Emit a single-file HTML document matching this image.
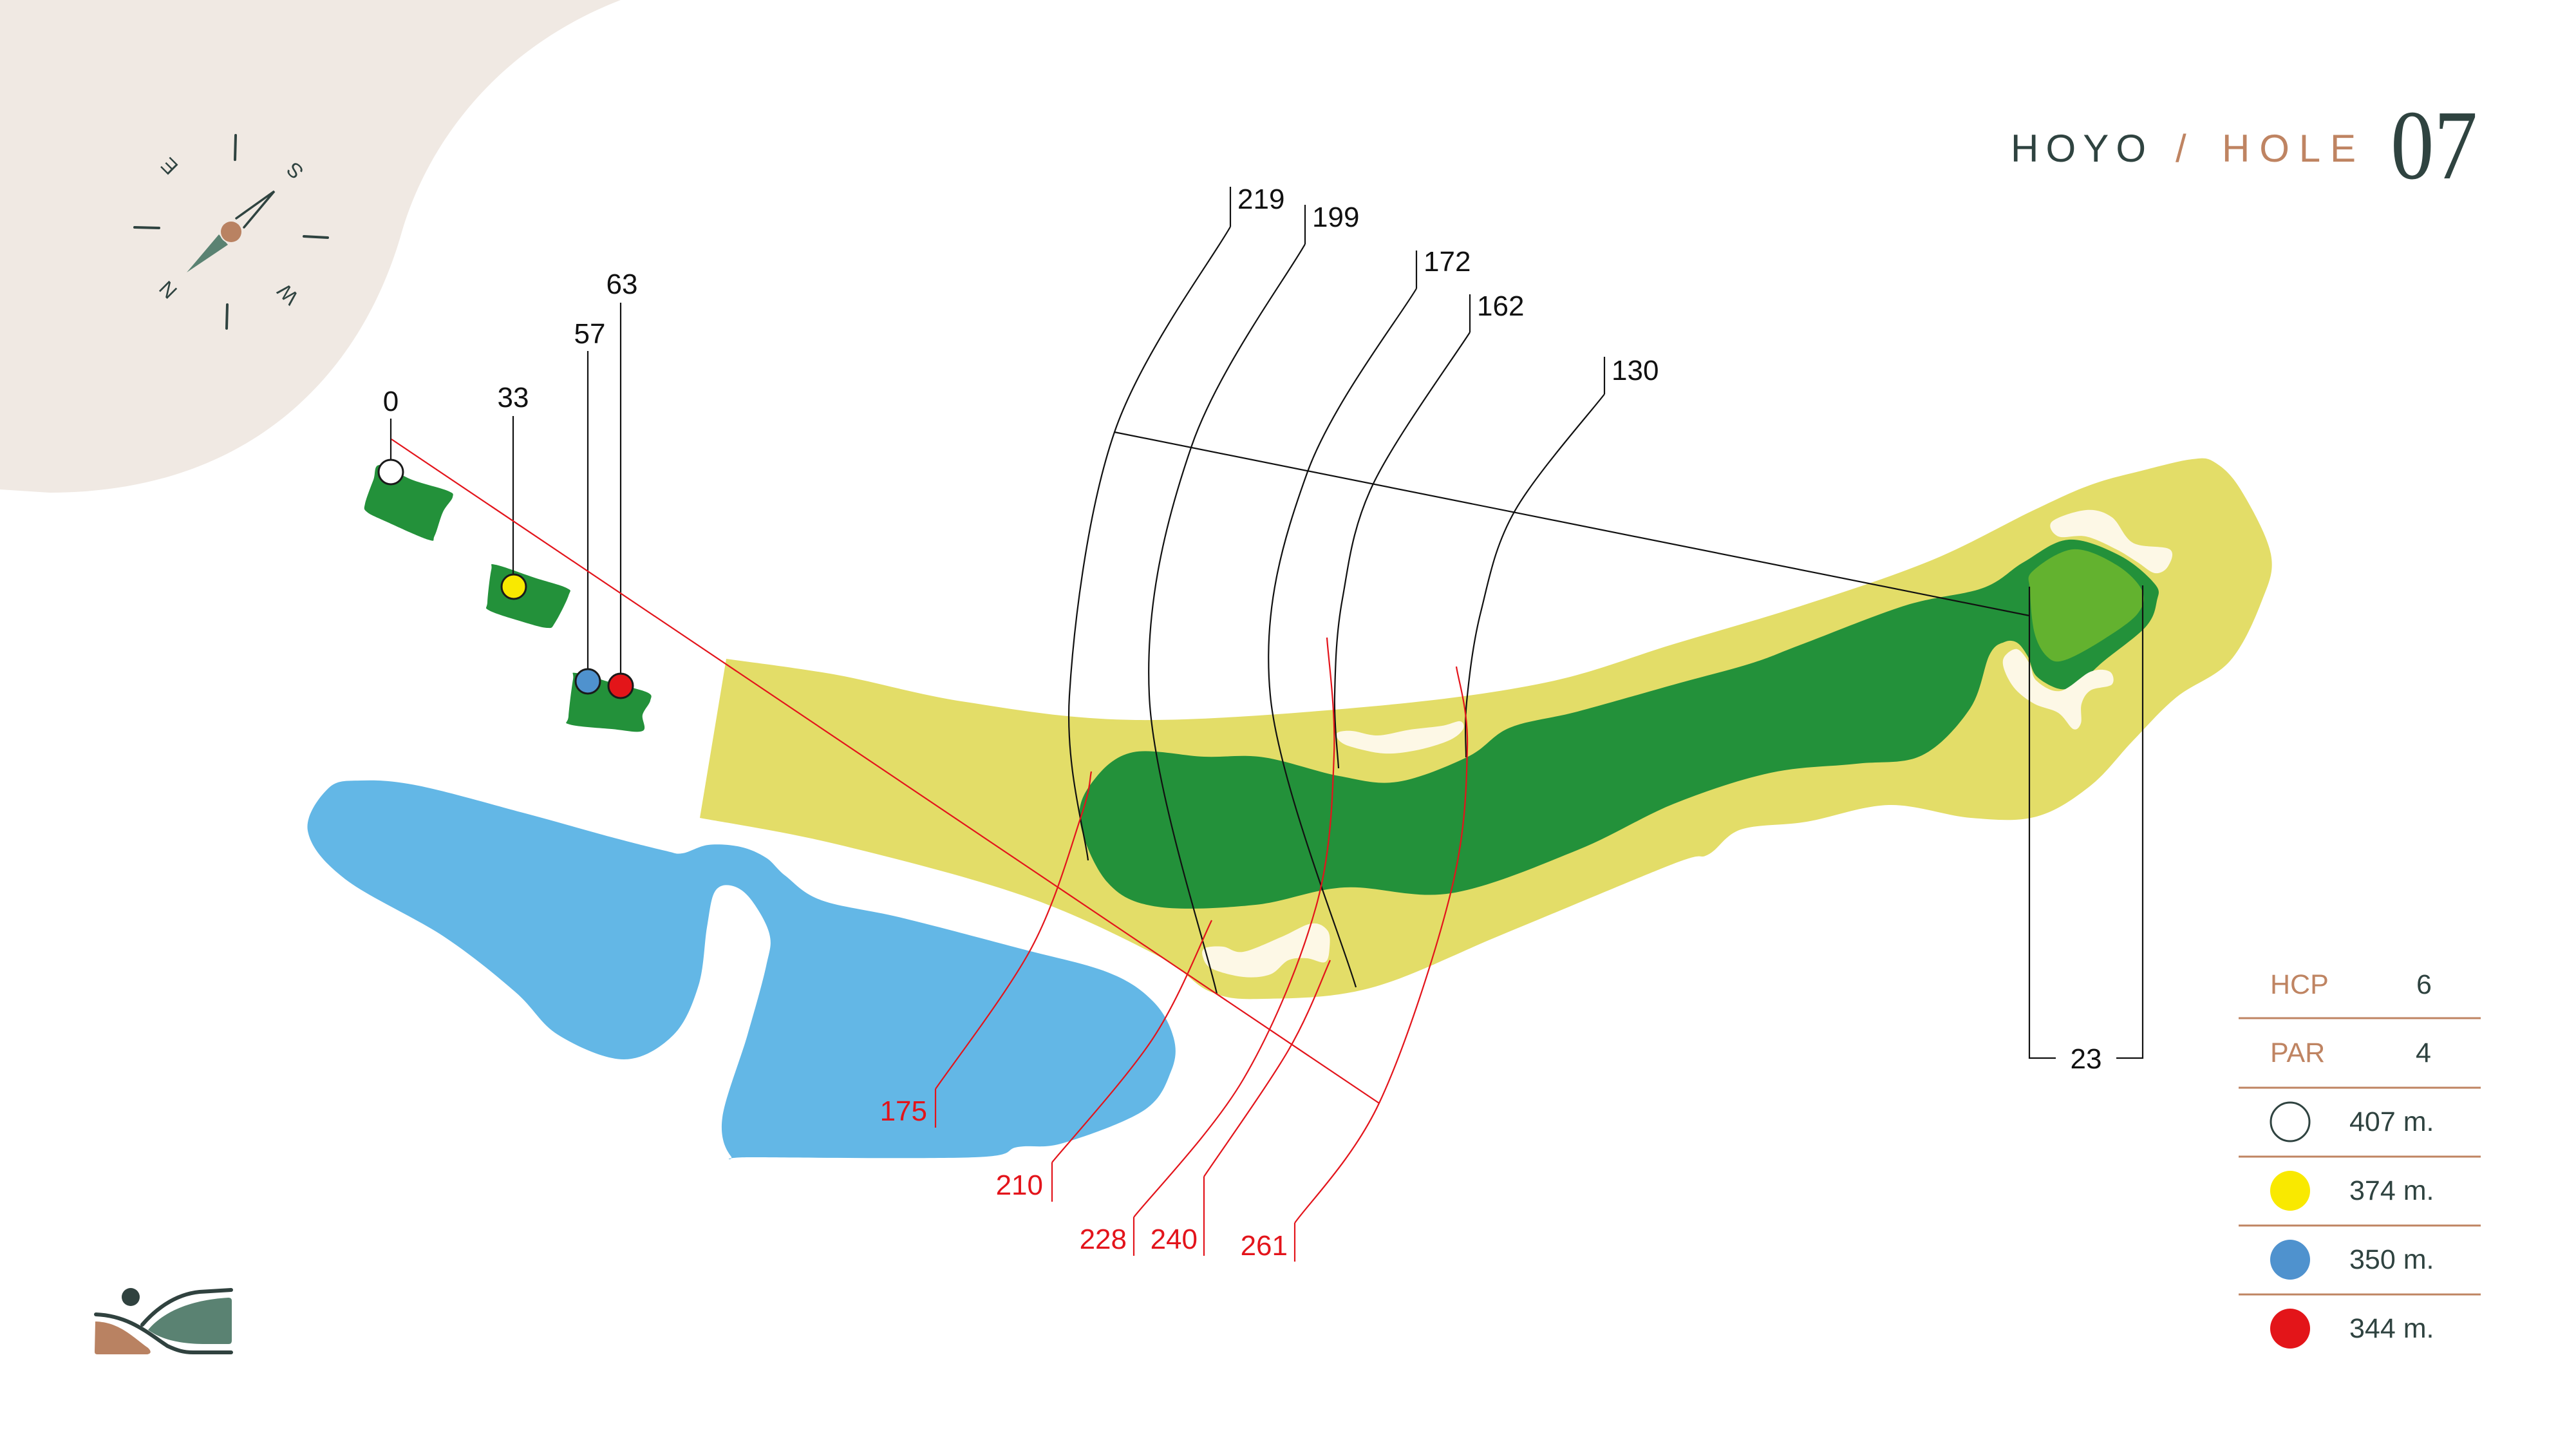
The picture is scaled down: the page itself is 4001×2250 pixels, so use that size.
<!DOCTYPE html>
<html><head><meta charset="utf-8"><style>
html,body{margin:0;padding:0;background:#fff;}
svg{display:block;}
text{font-family:"Liberation Sans",sans-serif;}
</style></head><body>
<svg id="s" width="4001" height="2250" viewBox="0 0 4001 2250" xmlns="http://www.w3.org/2000/svg">
<rect width="4001" height="2250" fill="#fff"/>
<path d="M0,0 L964,0 C765,77 663,230 625,357 C561,587 383,765 77,765 L0,760 Z" fill="#f0e9e3"/>

<g stroke="#2f4340" stroke-width="4" stroke-linecap="round" fill="none">
<line x1="366" y1="210" x2="365" y2="248"/>
<line x1="209" y1="353" x2="247" y2="354"/>
<line x1="472" y1="367" x2="509" y2="369"/>
<line x1="353" y1="473" x2="352" y2="510"/>
<polyline points="367,339 426,297 379,353" stroke-width="3.5"/>
</g>
<polygon points="290,423 340,364 354,380" fill="#5a8272"/>
<circle cx="359" cy="360" r="18" fill="#f0e9e3"/>
<circle cx="359" cy="360" r="16" fill="#b98262"/>
<g fill="#2f4340" font-size="32" text-anchor="middle">
<text transform="translate(263,258) rotate(-135)" y="11">E</text>
<text transform="translate(458,265) rotate(-135)" y="11">S</text>
<text transform="translate(261,450) rotate(-135)" y="11">N</text>
<text transform="translate(447,457) rotate(-135)" y="11">W</text>
</g>

<path id="water" fill="#63b7e6"/>
<path id="fair" fill="#e3dd68"/>
<path id="dark" fill="#23913a"/>
<path id="putt" fill="#63b22f"/>
<path id="s1" fill="#fdf8e6"/>
<path id="s2" fill="#fdf8e6"/>
<path id="s3" fill="#fdf8e6"/>
<path id="s4" fill="#fdf8e6"/>
<path id="t1" fill="#23913a"/>
<path id="t2" fill="#23913a"/>
<path id="t3" fill="#23913a"/>

<g stroke="#111" stroke-width="2.2" fill="none">
<line x1="1731" y1="671" x2="3152" y2="956"/>
<polyline points="3152,911 3152,1643 3193,1643"/>
<polyline points="3328,909 3328,1643 3287,1643"/>
<line x1="1911" y1="290" x2="1911" y2="352"/>
<line x1="2027" y1="318" x2="2027" y2="379"/>
<line x1="2200" y1="389" x2="2200" y2="448"/>
<line x1="2283" y1="457" x2="2283" y2="516"/>
<line x1="2492" y1="554" x2="2492" y2="612"/>
<path id="a219"/><path id="a199"/><path id="a172"/><path id="a162"/><path id="a130"/>
<line x1="607" y1="650" x2="607" y2="714"/>
<line x1="797" y1="646" x2="797" y2="892"/>
<line x1="913" y1="545" x2="913" y2="1040"/>
<line x1="964" y1="470" x2="964" y2="1046"/>
</g>
<g stroke="#e3141b" stroke-width="2.2" fill="none">
<line x1="608" y1="682" x2="2142" y2="1713"/>
<line x1="1453" y1="1691" x2="1453" y2="1751"/>
<line x1="1634" y1="1805" x2="1634" y2="1866"/>
<line x1="1761" y1="1890" x2="1761" y2="1950"/>
<line x1="1870" y1="1827" x2="1870" y2="1950"/>
<line x1="2011" y1="1899" x2="2011" y2="1959"/>
<path id="r175"/><path id="r210"/><path id="r228"/><path id="r240"/><path id="r261"/>
</g>

<g stroke="#1a1a1a" stroke-width="3">
<circle cx="607" cy="733" r="19" fill="#fff"/>
<circle cx="798" cy="911" r="19" fill="#f9e900"/>
<circle cx="913" cy="1058" r="19" fill="#4f92ce"/>
<circle cx="964" cy="1065" r="19" fill="#e31519"/>
</g>

<g fill="#111" font-size="44">
<text x="607" y="638" text-anchor="middle">0</text>
<text x="797" y="632" text-anchor="middle">33</text>
<text x="916" y="533" text-anchor="middle">57</text>
<text x="966" y="456" text-anchor="middle">63</text>
<text x="1922" y="324">219</text>
<text x="2038" y="352">199</text>
<text x="2211" y="421">172</text>
<text x="2294" y="490">162</text>
<text x="2503" y="590">130</text>
<text x="3240" y="1659" text-anchor="middle">23</text>
</g>
<g fill="#e3141b" font-size="44" text-anchor="end">
<text x="1440" y="1740">175</text>
<text x="1620" y="1855">210</text>
<text x="1750" y="1939">228</text>
<text x="1860" y="1939">240</text>
<text x="2000" y="1949">261</text>
</g>

<text x="3123" y="251" font-size="60" fill="#2f4340" textLength="210" lengthAdjust="spacing">HOYO</text>
<text x="3379" y="251" font-size="60" fill="#bf8462">/</text>
<text x="3451" y="251" font-size="60" fill="#bf8462" textLength="208" lengthAdjust="spacing">HOLE</text>
<text x="3713" y="277" font-size="154" fill="#2f4340" style="font-family:'Liberation Serif',serif" textLength="135" lengthAdjust="spacingAndGlyphs">07</text>

<g stroke="#bf8462" stroke-width="3">
<line x1="3477" y1="1581" x2="3853" y2="1581"/>
<line x1="3477" y1="1689" x2="3853" y2="1689"/>
<line x1="3477" y1="1796" x2="3853" y2="1796"/>
<line x1="3477" y1="1903" x2="3853" y2="1903"/>
<line x1="3477" y1="2010" x2="3853" y2="2010"/>
</g>
<g font-size="43">
<text x="3526" y="1543" fill="#bf8462">HCP</text>
<text x="3753" y="1543" fill="#2f4340">6</text>
<text x="3526" y="1649" fill="#bf8462">PAR</text>
<text x="3752" y="1649" fill="#2f4340">4</text>
<text x="3649" y="1756" fill="#2f4340">407 m.</text>
<text x="3649" y="1863" fill="#2f4340">374 m.</text>
<text x="3649" y="1970" fill="#2f4340">350 m.</text>
<text x="3649" y="2077" fill="#2f4340">344 m.</text>
</g>
<circle cx="3557" cy="1742" r="30" fill="#fff" stroke="#2f4340" stroke-width="3"/>
<circle cx="3557" cy="1849" r="31" fill="#f9e900"/>
<circle cx="3557" cy="1956" r="31" fill="#4f92ce"/>
<circle cx="3557" cy="2063" r="31" fill="#e31519"/>

<circle cx="203" cy="2014" r="14" fill="#30423f"/>
<path d="M148,2052 C185,2053 205,2075 230,2093 Q238,2101 229,2103 L151,2103 Q147,2103 147,2099 Z" fill="#b98262"/>
<path d="M230,2065 C255,2035 300,2018 355,2015 Q360,2015 360,2020 L360,2082 Q360,2087 355,2087 L320,2087 C280,2087 250,2080 230,2065 Z" fill="#5a8272"/>
<g stroke="#30423f" stroke-width="6" fill="none" stroke-linecap="round">
<path d="M149,2041 C200,2043 230,2070 260,2090 C275,2097 285,2100 300,2100 L359,2100"/>
<path d="M221,2057 C240,2035 270,2010 310,2006 L359,2003"/>
</g>
</svg>
<script>
function cr(p,closed){
  var n=p.length,d='M'+p[0][0]+','+p[0][1];
  function P(i){ if(closed) return p[(i+n)%n]; return p[Math.max(0,Math.min(n-1,i))]; }
  var segs=closed?n:n-1;
  for(var i=0;i<segs;i++){
    var p0=P(i-1),p1=P(i),p2=P(i+1),p3=P(i+2);
    var c1=[p1[0]+(p2[0]-p0[0])/6,p1[1]+(p2[1]-p0[1])/6];
    var c2=[p2[0]-(p3[0]-p1[0])/6,p2[1]-(p3[1]-p1[1])/6];
    d+=' C'+c1[0].toFixed(1)+','+c1[1].toFixed(1)+' '+c2[0].toFixed(1)+','+c2[1].toFixed(1)+' '+p2[0]+','+p2[1];
  }
  if(closed) d+='Z';
  return d;
}
function S(id,pts,closed){document.getElementById(id).setAttribute('d',cr(pts,closed));}
S('water',[[510,1224],[478,1290],[536,1365],[689,1454],[800,1540],[867,1607],[969,1645],[1046,1607],[1085,1530],[1098,1440],[1110,1385],[1135,1375],[1165,1395],[1195,1450],[1190,1500],[1161,1607],[1122,1735],[1135,1795],[1170,1797],[1514,1797],[1581,1781],[1651,1775],[1777,1724],[1819,1663],[1823,1612],[1791,1555],[1721,1510],[1581,1472],[1400,1425],[1276,1398],[1220,1360],[1190,1332],[1150,1315],[1100,1312],[1060,1325],[1033,1321],[950,1300],[816,1263],[650,1220],[560,1212]],true);
document.getElementById('fair').setAttribute('d',cr([[1128,1023],[1300,1048],[1500,1090],[1764,1118],[2129,1097],[2400,1060],[2600,1000],[2800,940],[3000,870],[3157,793],[3247,753],[3330,730],[3405,713],[3440,718],[3480,760],[3527,860],[3513,933],[3463,1027],[3380,1083],[3313,1150],[3247,1220],[3163,1268],[3061,1270],[2934,1250],[2806,1276],[2704,1288],[2653,1327],[2600,1341],[2336,1450],[2129,1534],[1963,1551],[1880,1540],[1798,1484],[1590,1391],[1300,1311],[1087,1270]],false)+' Z');
S('dark',[[1677,1273],[1700,1210],[1760,1168],[1870,1175],[1963,1176],[2080,1205],[2171,1214],[2280,1175],[2345,1130],[2450,1105],[2600,1063],[2720,1030],[2800,1000],[2960,940],[3080,913],[3143,873],[3213,838],[3293,863],[3347,907],[3350,933],[3333,973],[3267,1027],[3230,1060],[3200,1070],[3163,1050],[3150,1020],[3133,998],[3113,997],[3090,1017],[3060,1100],[2985,1173],[2883,1186],[2750,1200],[2600,1248],[2450,1320],[2254,1387],[2088,1378],[1950,1405],[1798,1408],[1720,1370]],true);
S('putt',[[3157,887],[3220,853],[3287,877],[3327,917],[3320,953],[3267,993],[3207,1025],[3180,1020],[3160,983],[3153,917]],true);
S('s1',[[3187,810],[3240,792],[3280,803],[3313,843],[3370,853],[3367,880],[3347,890],[3320,873],[3287,853],[3240,833],[3197,833]],true);
S('s2',[[3113,1020],[3133,1008],[3152,1030],[3163,1057],[3200,1073],[3247,1043],[3277,1043],[3280,1063],[3247,1072],[3233,1093],[3232,1123],[3220,1132],[3197,1107],[3160,1093],[3130,1070],[3113,1040]],true);
S('s3',[[2077,1138],[2100,1135],[2140,1142],[2190,1133],[2240,1127],[2268,1120],[2272,1133],[2250,1150],[2200,1165],[2150,1170],[2100,1160],[2080,1150]],true);
S('s4',[[1872,1472],[1900,1470],[1931,1478],[1990,1455],[2037,1434],[2062,1445],[2065,1472],[2058,1494],[2030,1488],[2001,1491],[1973,1513],[1931,1517],[1882,1504],[1868,1485]],true);
S('t1',[[590,722],[640,745],[695,762],[703,772],[688,795],[675,832],[665,838],[600,810],[570,795],[567,782],[580,745]],true);
S('t2',[[770,877],[830,897],[880,913],[883,925],[862,967],[850,975],[810,965],[760,948],[757,935],[763,885]],true);
S('t3',[[895,1045],[950,1060],[1005,1075],[1010,1088],[998,1110],[998,1135],[950,1132],[885,1125],[883,1112],[890,1055]],true);
S('a219',[[1911,352],[1731,671],[1661,1080],[1690,1336]],false);
S('a199',[[2027,379],[1851,692],[1785,1080],[1890,1543]],false);
S('a172',[[2200,448],[2030,735],[1973,1080],[2106,1533]],false);
S('a162',[[2283,516],[2133,751],[2085,930],[2073,1080],[2079,1193]],false);
S('a130',[[2492,612],[2353,793],[2300,950],[2278,1090],[2277,1176]],false);
S('r175',[[1453,1691],[1602,1472],[1679,1268],[1695,1198]],false);
S('r210',[[1634,1805],[1791,1612],[1882,1429]],false);
S('r228',[[1761,1890],[1931,1676],[2044,1408],[2072,1172],[2061,990]],false);
S('r240',[[1870,1827],[2001,1631],[2066,1491]],false);
S('r261',[[2011,1899],[2142,1713],[2254,1383],[2279,1159],[2262,1035]],false);
</script>
</body></html>
